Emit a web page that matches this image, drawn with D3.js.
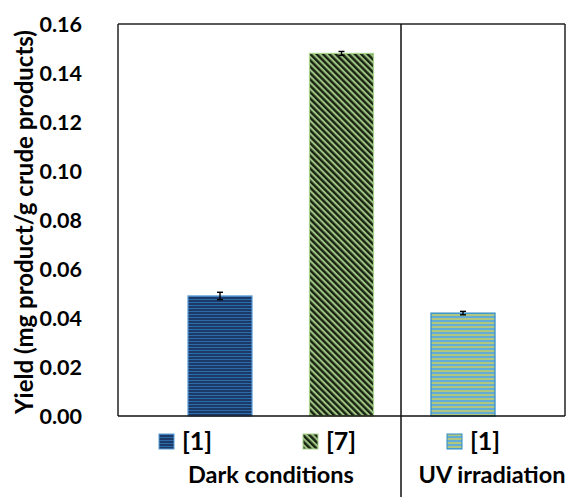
<!DOCTYPE html>
<html>
<head>
<meta charset="utf-8">
<script src="https://cdn.jsdelivr.net/npm/d3@7"></script>
<style>
  body { margin: 0; background: #fff; }
  svg { display: block; }
  text { font-family: Lato, "Open Sans", sans-serif; font-weight: bold; fill: #000; }
</style>
</head>
<body>
<svg id="chart" width="568" height="497"></svg>
<script>
// Yield data per condition
const groups = ["Dark conditions", "Dark conditions", "UV irradiation"];
const labels = ["[1]", "[7]", "[1]"];
const values = [0.049, 0.148, 0.042];
const errors = [0.0015, 0.0008, 0.0007];
const yTicks = [0, 0.02, 0.04, 0.06, 0.08, 0.10, 0.12, 0.14, 0.16];

const svg = d3.select("#chart");
const W = 568, H = 497;
const x0 = 118, x1 = 565;
const yTop = 24, yBot = 416;

const y = d3.scaleLinear().domain([0, 0.16]).range([yBot, yTop]);
const x = d3.scaleBand().domain(d3.range(values.length)).range([x0, x1]).paddingInner(0.473).paddingOuter(0.576);

// pattern fills
const defs = svg.append("defs");
const p1 = defs.append("pattern").attr("id", "pat0").attr("patternUnits", "userSpaceOnUse").attr("width", 8).attr("height", 3);
p1.append("rect").attr("width", 8).attr("height", 3).attr("fill", "#1b3a68");
p1.append("rect").attr("y", 2).attr("width", 8).attr("height", 1).attr("fill", "#2d6aa8");

const p2 = defs.append("pattern").attr("id", "pat1").attr("patternUnits", "userSpaceOnUse").attr("width", 4.5).attr("height", 4.5).attr("patternTransform", "rotate(-45)");
p2.append("rect").attr("width", 4.5).attr("height", 4.5).attr("fill", "#9cc283");
p2.append("rect").attr("width", 2.4).attr("height", 4.5).attr("fill", "#18220f");

const p3 = defs.append("pattern").attr("id", "pat2").attr("patternUnits", "userSpaceOnUse").attr("width", 8).attr("height", 4);
p3.append("rect").attr("width", 8).attr("height", 4).attr("fill", "#62acd6");
p3.append("rect").attr("y", 2).attr("width", 8).attr("height", 2).attr("fill", "#b0c680");

const strokes = ["#5b9bd5", "#a9d18e", "#2e8bc6"];

// bars
svg.append("g").selectAll("rect").data(values).join("rect")
  .attr("x", (d, i) => x(i))
  .attr("y", d => y(d))
  .attr("width", x.bandwidth())
  .attr("height", d => y(0) - y(d))
  .attr("fill", (d, i) => `url(#pat${i})`)
  .attr("stroke", (d, i) => strokes[i])
  .attr("stroke-width", 1.2);

// error bars
const eb = svg.append("g").attr("stroke", "#000").attr("stroke-width", 1.4);
values.forEach((v, i) => {
  const cx = x(i) + x.bandwidth() / 2;
  eb.append("line").attr("x1", cx).attr("x2", cx).attr("y1", y(v - errors[i])).attr("y2", y(v + errors[i]));
  eb.append("line").attr("x1", cx - 3).attr("x2", cx + 3).attr("y1", y(v + errors[i])).attr("y2", y(v + errors[i]));
  eb.append("line").attr("x1", cx - 3).attr("x2", cx + 3).attr("y1", y(v - errors[i])).attr("y2", y(v - errors[i]));
});

// frame
const frame = svg.append("g").attr("stroke", "#222").attr("stroke-width", 1.5).attr("fill", "none");
frame.append("line").attr("x1", x0).attr("x2", x1).attr("y1", yTop).attr("y2", yTop);
frame.append("line").attr("x1", x0).attr("x2", x0).attr("y1", yTop).attr("y2", yBot);
frame.append("line").attr("x1", x1).attr("x2", x1).attr("y1", yTop).attr("y2", yBot);
frame.append("line").attr("x1", x0).attr("x2", x1).attr("y1", yBot).attr("y2", yBot).attr("stroke", "#111");
const divX = 401;
frame.append("line").attr("x1", divX).attr("x2", divX).attr("y1", yTop).attr("y2", H).attr("stroke", "#111");

// y axis
const yAxis = svg.append("g").attr("transform", `translate(${x0},0)`)
  .call(d3.axisLeft(y).tickValues(yTicks).tickFormat(d3.format(".2f")).tickSize(0).tickPadding(36));
yAxis.select(".domain").remove();
yAxis.selectAll("text").style("font-size", "21.5px").style("font-family", "Lato, sans-serif").style("font-weight", "bold").attr("dy", "0.36em");

svg.append("text")
  .attr("transform", `translate(27,${(yTop + yBot) / 2 + 2}) rotate(-90)`)
  .attr("text-anchor", "middle")
  .attr("dominant-baseline", "middle")
  .style("font-size", "24px")
  .text("Yield (mg product/g crude products)");

// legend row
const legXs = [159, 303, 447];
const lg = svg.append("g");
labels.forEach((lab, i) => {
  lg.append("rect").attr("x", legXs[i]).attr("y", 434).attr("width", 15).attr("height", 15)
    .attr("fill", `url(#pat${i})`).attr("stroke", strokes[i]).attr("stroke-width", 1);
  lg.append("text").attr("x", legXs[i] + 23).attr("y", 450).style("font-size", "25px").text(lab);
});

// group labels
const groupNames = Array.from(new Set(groups));
const groupX = [271, 492];
groupNames.forEach((g, i) => {
  svg.append("text").attr("x", groupX[i]).attr("y", 483).attr("text-anchor", "middle")
    .style("font-size", "23.5px").text(g);
});
</script>
</body>
</html>
